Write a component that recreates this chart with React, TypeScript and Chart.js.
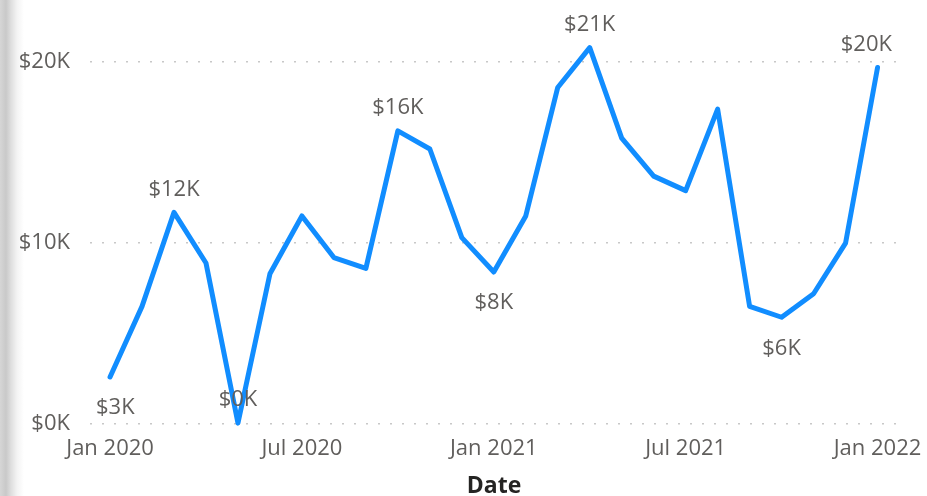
import React, { useEffect, useRef } from "react";
import { Chart, registerables } from "chart.js";

Chart.register(...registerables);

const months = [
  "Jan 2020", "Feb 2020", "Mar 2020", "Apr 2020", "May 2020", "Jun 2020",
  "Jul 2020", "Aug 2020", "Sep 2020", "Oct 2020", "Nov 2020", "Dec 2020",
  "Jan 2021", "Feb 2021", "Mar 2021", "Apr 2021", "May 2021", "Jun 2021",
  "Jul 2021", "Aug 2021", "Sep 2021", "Oct 2021", "Nov 2021", "Dec 2021",
  "Jan 2022",
];

const sales = [
  2600, 6500, 11700, 8900, 50, 8300,
  11500, 9200, 8600, 16200, 15200, 10300,
  8400, 11500, 18600, 20800, 15800, 13700,
  12900, 17400, 6500, 5900, 7200, 10000,
  19700,
];

const yTickValues = [0, 10000, 20000];
const xTickLabels = ["Jan 2020", "Jul 2020", "Jan 2021", "Jul 2021", "Jan 2022"];
const labeledMonths = ["Jan 2020", "Mar 2020", "May 2020", "Oct 2020", "Jan 2021", "Apr 2021", "Oct 2021", "Jan 2022"];
const axisTitle = "Date";

const FONT = "'Open Sans', 'Noto Sans', sans-serif";
const TEXT_GRAY = "#605E5C";

const fmtK = (v: number) => `$${Math.round(v / 1000)}K`;

const pointLabelPlugin = {
  id: "pointLabels",
  afterDatasetsDraw(chart: any) {
    const { ctx, chartArea } = chart;
    const meta = chart.getDatasetMeta(0);
    ctx.save();
    ctx.font = `22px ${FONT}`;
    ctx.fillStyle = TEXT_GRAY;
    ctx.textAlign = "center";
    ctx.textBaseline = "middle";
    labeledMonths.forEach((m) => {
      const i = months.indexOf(m);
      const pt = meta.data[i];
      if (!pt) return;
      const v = sales[i];
      const prev = sales[i - 1];
      const next = sales[i + 1];
      const isMin = (prev === undefined || v < prev) && (next === undefined || v < next);
      const text = fmtK(v);
      const w = ctx.measureText(text).width;
      let y = isMin ? pt.y + 31 : pt.y - 23;
      if (isMin && y + 11 > chartArea.bottom) y = pt.y - 23;
      const x = Math.min(Math.max(pt.x, chartArea.left + w / 2 + 6), chartArea.right - w / 2 - 6);
      ctx.fillText(text, x, y);
    });
    ctx.restore();
  },
};

export default function App() {
  const ref = useRef<HTMLCanvasElement | null>(null);

  useEffect(() => {
    document.body.style.margin = "0";
    if (!ref.current) return;
    const chart = new Chart(ref.current, {
      type: "line",
      data: {
        datasets: [
          {
            data: sales.map((v, i) => ({ x: i, y: v })),
            borderColor: "#118DFF",
            backgroundColor: "#118DFF",
            borderWidth: 5,
            borderCapStyle: "round",
            borderJoinStyle: "round",
            pointRadius: 0,
            tension: 0,
            clip: false as any,
          },
        ],
      },
      options: {
        responsive: false,
        animation: false,
        layout: { padding: { top: 18, right: 29, bottom: 0, left: 0 } },
        plugins: { legend: { display: false }, tooltip: { enabled: false } },
        scales: {
          x: {
            type: "linear",
            min: -0.627,
            max: 24.64,
            afterBuildTicks: (s: any) => {
              s.ticks = xTickLabels.map((l) => ({ value: months.indexOf(l) }));
            },
            afterFit: (s: any) => {
              s.height = 72;
            },
            grid: { display: false },
            border: { display: false },
            ticks: {
              callback: (v: any) => months[Number(v)],
              font: { family: FONT, size: 22 },
              color: TEXT_GRAY,
              padding: 4,
              maxRotation: 0,
              autoSkip: false,
            },
            title: {
              display: true,
              text: axisTitle,
              font: { family: FONT, size: 23, weight: "bold", lineHeight: 1 },
              color: "#252423",
              padding: { top: 0, bottom: -2 },
            },
          },
          y: {
            min: 0,
            max: 21600,
            afterBuildTicks: (s: any) => {
              s.ticks = yTickValues.map((v) => ({ value: v }));
            },
            afterFit: (s: any) => {
              s.width = 90;
            },
            grid: { color: "#c8c8c8", lineWidth: 1.5, drawTicks: false },
            border: { display: false, dash: [2, 10] },
            ticks: {
              callback: (v: any) => fmtK(Number(v)),
              font: { family: FONT, size: 22 },
              color: TEXT_GRAY,
              padding: 20,
            },
          },
        },
      },
      plugins: [pointLabelPlugin],
    } as any);
    return () => chart.destroy();
  }, []);

  return (
    <div style={{ position: "relative", width: 927, height: 496, background: "#fff" }}>
      <div
        style={{
          position: "absolute",
          left: 0,
          top: 0,
          width: 24,
          height: 496,
          background:
            "linear-gradient(to right, #d6d6d6 0px, #c9c9c9 6px, #dedede 11px, #f3f3f3 17px, #ffffff 24px)",
        }}
      />
      <canvas ref={ref} width={927} height={496} style={{ position: "absolute", left: 0, top: 0 }} />
    </div>
  );
}
